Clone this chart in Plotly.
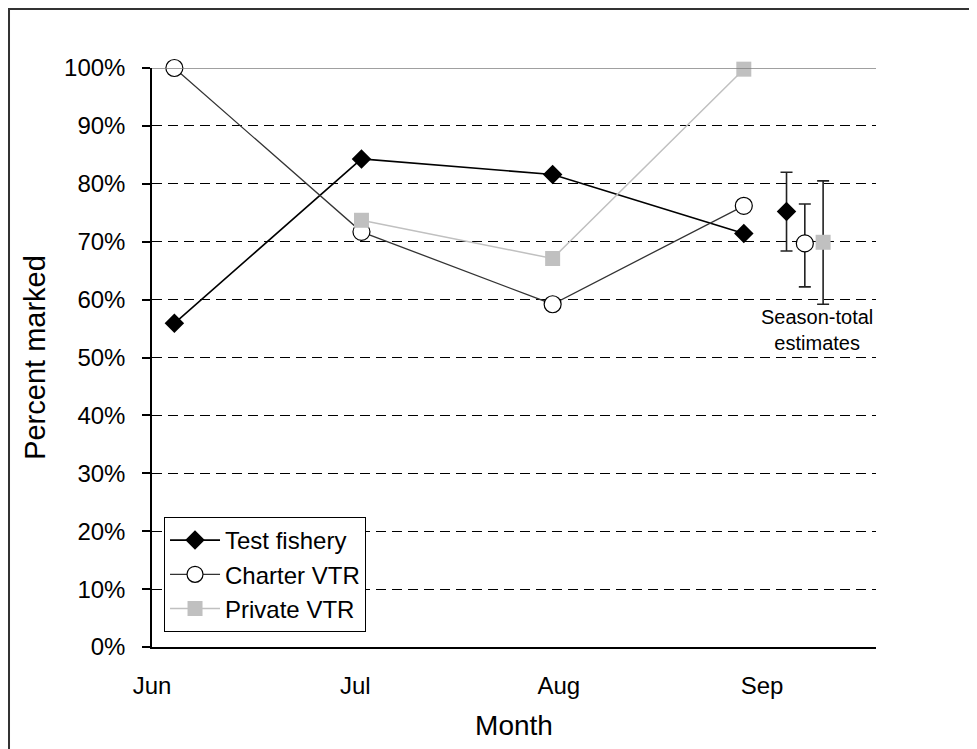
import plotly.graph_objects as go

# ---- data ----
month_labels = ["Jun", "Jul", "Aug", "Sep"]
month_ticks = [0, 1, 2, 3]

test_x = [0.11, 1.03, 1.97, 2.91]
test_y = [55.9, 84.3, 81.6, 71.4]

charter_x = [0.11, 1.03, 1.97, 2.91]
charter_y = [100.0, 71.7, 59.2, 76.2]

private_x = [1.03, 1.97, 2.91]
private_y = [73.7, 67.1, 99.8]

season_names = ["Test fishery", "Charter VTR", "Private VTR"]
season_x = [3.12, 3.21, 3.30]
season_est = [75.2, 69.7, 69.9]
season_upper = [82.0, 76.5, 80.5]
season_lower = [68.4, 62.2, 59.2]

FONT = "Arial, Liberation Sans, sans-serif"

fig = go.Figure()

fig.add_trace(go.Scatter(
    x=test_x, y=test_y, mode="lines+markers", name="Test fishery",
    line=dict(color="black", width=1.6),
    marker=dict(symbol="diamond", size=15, color="black"),
    cliponaxis=False))
fig.add_trace(go.Scatter(
    x=charter_x, y=charter_y, mode="lines+markers", name="Charter VTR",
    line=dict(color="#333333", width=1.3),
    marker=dict(symbol="circle", size=17, color="white",
                line=dict(color="black", width=1.2)),
    cliponaxis=False))
fig.add_trace(go.Scatter(
    x=private_x, y=private_y, mode="lines+markers", name="Private VTR",
    line=dict(color="#C0C0C0", width=1.5),
    marker=dict(symbol="square", size=15, color="#C0C0C0"),
    cliponaxis=False))

styles = [
    dict(symbol="diamond", size=15, color="black"),
    dict(symbol="circle", size=17, color="white", line=dict(color="black", width=1.2)),
    dict(symbol="square", size=15, color="#C0C0C0"),
]
for i in range(3):
    fig.add_trace(go.Scatter(
        x=[season_x[i]], y=[season_est[i]], mode="markers",
        marker=styles[i], showlegend=False, name=season_names[i],
        error_y=dict(type="data", symmetric=False,
                     array=[season_upper[i] - season_est[i]],
                     arrayminus=[season_est[i] - season_lower[i]],
                     color="#222222", thickness=1.6, width=6),
        cliponaxis=False))

fig.add_annotation(x=3.27, y=54.8, xref="x", yref="y",
                   text="Season-total<br>estimates", showarrow=False,
                   font=dict(family=FONT, size=20, color="black"),
                   xanchor="center", yanchor="middle", align="center")

# solid grey line at top of plot (100%)
fig.add_shape(type="line", xref="paper", yref="y", x0=0, x1=1, y0=100, y1=100,
              line=dict(color="#808080", width=1.5), layer="above")

# chart-area frame (left and top edges visible)
fig.add_shape(type="path", xref="paper", yref="paper",
              path="M -0.1975,-0.25 L -0.1975,1.1019 L 1.3,1.1019",
              line=dict(color="#333333", width=2))

fig.update_layout(
    width=977, height=749,
    margin=dict(l=144, r=109, t=60, b=110),
    paper_bgcolor="white", plot_bgcolor="white",
    font=dict(family=FONT, size=24, color="black"),
    showlegend=True,
    legend=dict(x=0.0166, y=0.2245, xanchor="left", yanchor="top",
                bgcolor="white", bordercolor="black", borderwidth=1,
                font=dict(family=FONT, size=24, color="black"),
                itemwidth=50, tracegroupgap=0),
    xaxis=dict(range=[0, 3.56], tickvals=month_ticks, ticktext=month_labels,
               showgrid=False, zeroline=False, showline=True,
               linecolor="black", linewidth=1.5, ticks="",
               ticklabelstandoff=16,
               title=dict(text="Month", font=dict(family=FONT, size=28), standoff=18)),
    yaxis=dict(range=[0, 100], dtick=10, ticksuffix="%",
               showgrid=True, gridcolor="black", gridwidth=1, griddash="10px,6px",
               zeroline=False, showline=True, linecolor="black", linewidth=1.5,
               ticks="outside", ticklen=8, tickcolor="black", tickwidth=1.5,
               ticklabelstandoff=12,
               title=dict(text="Percent marked", font=dict(family=FONT, size=29), standoff=10)),
)

fig.write_html("out.html")
